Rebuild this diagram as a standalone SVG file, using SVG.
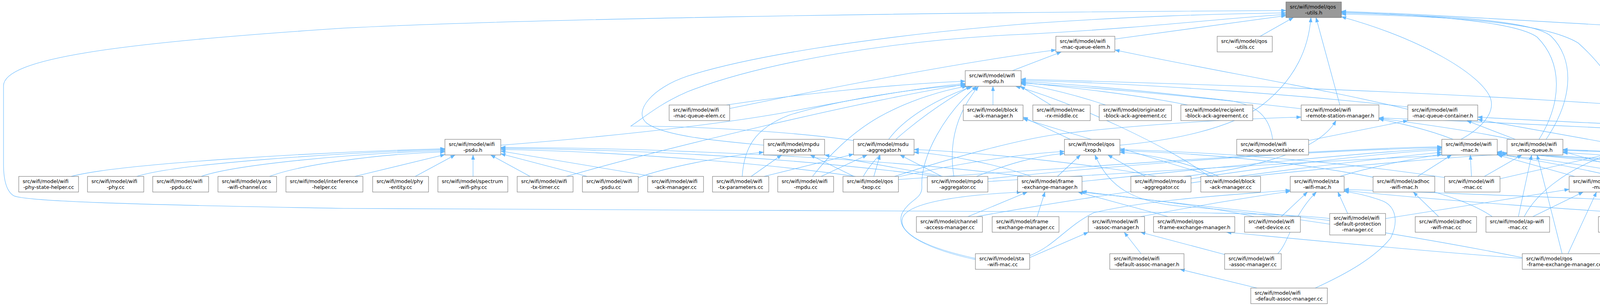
<svg xmlns="http://www.w3.org/2000/svg" width="5236" height="784" viewBox="0 0 5236 784">
<style>
.node rect{fill:#ffffff;stroke:#666666;stroke-width:1}
.root rect{fill:#999999;stroke:#666666;stroke-width:1}
text{font-family:"DejaVu Sans","Liberation Sans",sans-serif;font-size:13px;fill:#000000}
.c{text-anchor:middle}
.e path{fill:none;stroke:#63b8ff;stroke-width:1.1;marker-end:url(#arr)}
</style>
<defs>
<marker id="arr" markerUnits="userSpaceOnUse" markerWidth="13" markerHeight="10" refX="12" refY="4.5" orient="auto" viewBox="0 0 13 10">
<path d="M0,0 L12,4.5 L0,9 Z" fill="#63b8ff" stroke="#63b8ff" stroke-width="0.5"/>
</marker>
</defs>
<rect x="0" y="0" width="5236" height="784" fill="#ffffff"/>
<g id="edges" class="e">
<path d="M2854,100 L3292,40"/>
<path d="M3226,93 L3311,45"/>
<path d="M3430,269 L3369,45"/>
<path d="M2867,372 C3000,360 3150,330 3230,270 C3320,200 3350,120 3356,45"/>
<path d="M1955,372 C1850,362 1700,350 1655,315 C1620,285 1670,225 1760,195 C1900,150 2200,95 2640,60 C2900,42 3100,36 3292,33"/>
<path d="M2185,360 C2050,340 1800,323 1615,323 C1650,300 1690,265 1760,235 C1950,160 2300,100 2640,87 C2950,70 3150,45 3292,37"/>
<path d="M3404,560 C3300,546 3000,543 2600,542 L880,534 C300,524 70,515 36,502 C18,492 9,465 9,420 L9,220 C9,150 300,110 880,72 C1300,50 2300,32 3292,27"/>
<path d="M5112,555 C5180,500 5231,450 5231,380 L5231,220 C5231,195 5215,180 5180,170 C5000,120 4700,95 4400,80 C4000,60 3700,38 3434,29"/>
<path d="M3940,357 C4000,260 4000,160 3935,95 C3880,55 3650,38 3434,31"/>
<path d="M3958,357 C4030,250 4030,150 3970,92 C3920,52 3700,40 3434,33"/>
<path d="M4194,357 C4170,280 4130,190 4040,110 C3950,55 3700,42 3434,36"/>
<path d="M3740,357 C3790,330 3830,290 3815,250 C3790,190 3640,100 3434,43"/>
<path d="M2592,181 L2717,133"/>
<path d="M1868,278 C2100,230 2450,160 2703,128"/>
<path d="M3604,280 C3400,230 3100,180 2854,128"/>
<path d="M1282,372 C1500,355 1800,325 2000,290 C2200,252 2350,225 2471,214"/>
<path d="M1860,269 C2050,240 2300,215 2471,208"/>
<path d="M2542,269 L2542,221"/>
<path d="M2690,269 L2612,221"/>
<path d="M2830,269 C2760,245 2680,225 2614,215"/>
<path d="M3040,269 C2900,240 2700,220 2614,211"/>
<path d="M3604,274 C3300,240 2900,213 2614,206"/>
<path d="M3258,357 C3250,300 3220,270 3150,258 C2950,235 2750,215 2614,209"/>
<path d="M1900,452 C1905,380 1930,330 2020,295 C2150,255 2350,225 2471,218"/>
<path d="M2080,452 C2120,400 2180,340 2250,300 C2330,255 2420,230 2475,221"/>
<path d="M2275,357 C2310,310 2380,260 2490,221"/>
<path d="M2442,452 C2430,380 2440,300 2505,221"/>
<path d="M3870,357 C3600,300 2900,228 2614,213"/>
<path d="M3095,452 C3000,380 2750,262 2600,221"/>
<path d="M5100,555 C5075,480 5060,430 4990,385 C4800,300 4000,240 2614,203"/>
<path d="M1450,452 C1700,380 2200,260 2471,216"/>
<path d="M2210,452 C2250,380 2380,280 2485,221"/>
<path d="M2497,662 C2350,630 2290,590 2310,545 C2330,510 2360,510 2360,480 C2355,400 2420,290 2500,221"/>
<path d="M182,452 C300,420 800,390 1139,381"/>
<path d="M350,452 C450,420 850,392 1139,383"/>
<path d="M515,452 C600,422 900,393 1139,386"/>
<path d="M690,452 C760,425 950,395 1139,389"/>
<path d="M908,452 L1139,396"/>
<path d="M1063,452 L1165,397"/>
<path d="M1211,452 L1211,397"/>
<path d="M1357,452 L1256,397"/>
<path d="M1503,452 L1282,394"/>
<path d="M1671,452 L1282,387"/>
<path d="M2400,452 C2000,400 1600,383 1282,380"/>
<path d="M2620,452 C2200,398 1600,378 1282,378"/>
<path d="M2190,452 C1900,410 1500,386 1282,383"/>
<path d="M2740,357 L2619,300"/>
<path d="M3106,452 L2619,304"/>
<path d="M3720,357 C3650,330 3580,315 3530,305"/>
<path d="M3030,452 C3150,440 3370,400 3420,309"/>
<path d="M2290,452 C2450,400 2600,360 2700,345 C2900,320 3150,305 3331,300"/>
<path d="M4641,555 C4800,525 5075,520 5085,495 C5095,465 5060,420 4990,395 C4800,360 4000,320 3530,302"/>
<path d="M4645,557 C4800,530 5108,525 5110,495 C5113,450 5070,400 4960,370 C4700,335 4100,320 3783,300"/>
<path d="M3350,360 C3450,340 3550,320 3604,309"/>
<path d="M3879,357 L3755,309"/>
<path d="M4111,365 L3783,306"/>
<path d="M1923,452 L2001,397"/>
<path d="M2186,452 L2074,397"/>
<path d="M1634,455 C1700,430 1850,400 1955,390"/>
<path d="M2414,452 L2111,397"/>
<path d="M1956,452 L2185,395"/>
<path d="M2102,452 L2220,397"/>
<path d="M2237,452 L2253,397"/>
<path d="M2411,452 L2304,397"/>
<path d="M2960,452 C2800,420 2500,390 2340,383"/>
<path d="M2640,452 C2550,420 2420,395 2340,390"/>
<path d="M2290,455 C2450,420 2600,395 2725,388"/>
<path d="M2500,452 C2580,420 2650,400 2725,393"/>
<path d="M2707,452 L2766,397"/>
<path d="M2932,452 L2836,397"/>
<path d="M3897,660 C3600,600 3200,540 3040,530 C2900,520 2840,480 2803,397"/>
<path d="M3700,455 C3400,410 3100,390 2867,383"/>
<path d="M3820,555 C3700,470 3300,400 2867,386"/>
<path d="M3120,452 C3050,420 2950,395 2867,390"/>
<path d="M3629,452 L3716,397"/>
<path d="M3767,452 L3764,397"/>
<path d="M3430,452 C3500,430 3600,410 3691,395"/>
<path d="M4031,452 L3834,397"/>
<path d="M2770,465 C3100,430 3500,390 3691,380"/>
<path d="M2529,458 C3000,410 3400,385 3691,378"/>
<path d="M3049,458 C3300,420 3550,390 3691,384"/>
<path d="M2300,460 C2900,420 3400,380 3691,376"/>
<path d="M4250,459 C4100,430 3950,405 3833,397"/>
<path d="M4480,555 C4300,480 4000,420 3833,395"/>
<path d="M4705,455 C4400,420 4000,400 3833,391"/>
<path d="M5000,555 C4700,480 4100,410 3833,389"/>
<path d="M2500,555 C2800,500 3300,430 3691,390"/>
<path d="M4500,455 C4300,420 4000,400 3833,393"/>
<path d="M3800,452 L3896,397"/>
<path d="M3887,555 L3921,397"/>
<path d="M3999,650 L3935,397"/>
<path d="M4250,459 L4001,388"/>
<path d="M4950,452 C4700,420 4300,395 4001,385"/>
<path d="M4730,445 C4500,410 4200,390 4001,383"/>
<path d="M3200,452 C3500,420 3750,400 3858,395"/>
<path d="M2529,465 C3100,430 3600,400 3858,392"/>
<path d="M4520,650 C4450,610 4410,560 4410,500 C4405,430 4200,400 4001,391"/>
<path d="M4275,459 L4221,397"/>
<path d="M4520,452 L4292,396"/>
<path d="M4710,450 C4500,400 4350,385 4292,380"/>
<path d="M4930,452 C4700,400 4450,375 4292,370"/>
<path d="M3840,458 L4111,396"/>
<path d="M3902,555 C3930,500 4000,440 4111,398"/>
<path d="M2478,555 L2630,492"/>
<path d="M2655,555 L2675,492"/>
<path d="M2990,555 L2760,492"/>
<path d="M3210,555 C3100,530 2900,505 2765,492"/>
<path d="M3404,565 C3200,540 2900,510 2770,490"/>
<path d="M2497,665 C2380,640 2300,600 2310,560 C2320,520 2450,500 2615,492"/>
<path d="M2920,555 C3050,530 3200,505 3303,490"/>
<path d="M3280,555 L3347,492"/>
<path d="M3271,650 C3300,620 3310,550 3370,492"/>
<path d="M2636,655 C2700,630 2730,580 2800,545 C2950,510 3150,500 3303,487"/>
<path d="M3367,738 C3450,700 3520,660 3560,610 C3580,570 3575,530 3540,515 C3500,500 3470,495 3441,490"/>
<path d="M3450,547 L3425,492"/>
<path d="M4991,560 C4500,520 3800,500 3441,485"/>
<path d="M4457,565 C4000,535 3700,515 3441,488"/>
<path d="M3683,555 L3618,492"/>
<path d="M3924,555 L4053,492"/>
<path d="M4165,555 L4119,492"/>
<path d="M4014,650 L4087,492"/>
<path d="M3547,560 L4017,485"/>
<path d="M4470,555 C4350,520 4250,500 4180,492"/>
<path d="M5000,560 C4700,530 4400,505 4180,490"/>
<path d="M2636,660 L2786,595"/>
<path d="M2921,650 L2878,595"/>
<path d="M3135,652 L2920,595"/>
<path d="M3897,662 C3600,640 3300,610 3140,595"/>
<path d="M3218,738 L3021,690"/>
<path d="M4782,555 L4785,500"/>
<path d="M4632,650 L4741,595"/>
</g>
<g id="n_qos_utils_h" class="root"><rect x="3292" y="5" width="142" height="40"/><text x="3302" y="21.5">src/wifi/model/qos</text><text class="c" x="3363" y="36.5">-utils.h</text></g>
<g id="n_mac_queue_elem_h" class="node"><rect x="2703" y="93" width="151" height="40"/><text x="2713" y="109.5">src/wifi/model/wifi</text><text class="c" x="2778.5" y="124.5">-mac-queue-elem.h</text></g>
<g id="n_qos_utils_cc" class="node"><rect x="3116" y="93" width="141" height="40"/><text x="3126" y="109.5">src/wifi/model/qos</text><text class="c" x="3186.5" y="124.5">-utils.cc</text></g>
<g id="n_wifi_mpdu_h" class="node"><rect x="2471" y="181" width="143" height="40"/><text x="2481" y="197.5">src/wifi/model/wifi</text><text class="c" x="2542.5" y="212.5">-mpdu.h</text></g>
<g id="n_mac_queue_elem_cc" class="node"><rect x="1713" y="269" width="155" height="40"/><text x="1723" y="285.5">src/wifi/model/wifi</text><text class="c" x="1790.5" y="300.5">-mac-queue-elem.cc</text></g>
<g id="n_block_ack_manager_h" class="node"><rect x="2466" y="269" width="153" height="40"/><text x="2476" y="285.5">src/wifi/model/block</text><text class="c" x="2542.5" y="300.5">-ack-manager.h</text></g>
<g id="n_mac_rx_middle_cc" class="node"><rect x="2644" y="269" width="147" height="40"/><text x="2654" y="285.5">src/wifi/model/mac</text><text class="c" x="2717.5" y="300.5">-rx-middle.cc</text></g>
<g id="n_originator_cc" class="node"><rect x="2814" y="269" width="185" height="40"/><text x="2824" y="285.5">src/wifi/model/originator</text><text class="c" x="2906.5" y="300.5">-block-ack-agreement.cc</text></g>
<g id="n_recipient_cc" class="node"><rect x="3023" y="269" width="184" height="40"/><text x="3033" y="285.5">src/wifi/model/recipient</text><text class="c" x="3115" y="300.5">-block-ack-agreement.cc</text></g>
<g id="n_rsm_h" class="node"><rect x="3331" y="269" width="199" height="40"/><text x="3341" y="285.5">src/wifi/model/wifi</text><text class="c" x="3430.5" y="300.5">-remote-station-manager.h</text></g>
<g id="n_mac_queue_container_h" class="node"><rect x="3604" y="269" width="179" height="40"/><text x="3614" y="285.5">src/wifi/model/wifi</text><text class="c" x="3693.5" y="300.5">-mac-queue-container.h</text></g>
<g id="n_psdu_h" class="node"><rect x="1139" y="357" width="143" height="40"/><text x="1149" y="373.5">src/wifi/model/wifi</text><text class="c" x="1210.5" y="388.5">-psdu.h</text></g>
<g id="n_mpdu_aggregator_h" class="node"><rect x="1955" y="357" width="156" height="40"/><text x="1965" y="373.5">src/wifi/model/mpdu</text><text class="c" x="2033" y="388.5">-aggregator.h</text></g>
<g id="n_msdu_aggregator_h" class="node"><rect x="2185" y="357" width="155" height="40"/><text x="2195" y="373.5">src/wifi/model/msdu</text><text class="c" x="2262.5" y="388.5">-aggregator.h</text></g>
<g id="n_qos_txop_h" class="node"><rect x="2725" y="357" width="142" height="40"/><text x="2735" y="373.5">src/wifi/model/qos</text><text class="c" x="2796" y="388.5">-txop.h</text></g>
<g id="n_mac_queue_container_cc" class="node"><rect x="3166" y="357" width="184" height="40"/><text x="3176" y="373.5">src/wifi/model/wifi</text><text class="c" x="3258" y="388.5">-mac-queue-container.cc</text></g>
<g id="n_wifi_mac_h" class="node"><rect x="3691" y="357" width="142" height="40"/><text x="3701" y="373.5">src/wifi/model/wifi</text><text class="c" x="3762" y="388.5">-mac.h</text></g>
<g id="n_wifi_mac_queue_h" class="node"><rect x="3858" y="357" width="143" height="40"/><text x="3868" y="373.5">src/wifi/model/wifi</text><text class="c" x="3929.5" y="388.5">-mac-queue.h</text></g>
<g id="n_mac_queue_scheduler_h" class="node"><rect x="4111" y="357" width="181" height="40"/><text x="4121" y="373.5">src/wifi/model/wifi</text><text class="c" x="4201.5" y="388.5">-mac-queue-scheduler.h</text></g>
<g id="n_phy_state_helper_cc" class="node"><rect x="48" y="452" width="153" height="40"/><text x="58" y="468.5">src/wifi/model/wifi</text><text class="c" x="124.5" y="483.5">-phy-state-helper.cc</text></g>
<g id="n_wifi_phy_cc" class="node"><rect x="224" y="452" width="144" height="40"/><text x="234" y="468.5">src/wifi/model/wifi</text><text class="c" x="296" y="483.5">-phy.cc</text></g>
<g id="n_wifi_ppdu_cc" class="node"><rect x="391" y="452" width="143" height="40"/><text x="401" y="468.5">src/wifi/model/wifi</text><text class="c" x="462.5" y="483.5">-ppdu.cc</text></g>
<g id="n_yans_wifi_channel_cc" class="node"><rect x="558" y="452" width="150" height="40"/><text x="568" y="468.5">src/wifi/model/yans</text><text class="c" x="633" y="483.5">-wifi-channel.cc</text></g>
<g id="n_interference_helper_cc" class="node"><rect x="732" y="452" width="197" height="40"/><text x="742" y="468.5">src/wifi/model/interference</text><text class="c" x="830.5" y="483.5">-helper.cc</text></g>
<g id="n_phy_entity_cc" class="node"><rect x="954" y="452" width="143" height="40"/><text x="964" y="468.5">src/wifi/model/phy</text><text class="c" x="1025.5" y="483.5">-entity.cc</text></g>
<g id="n_spectrum_wifi_phy_cc" class="node"><rect x="1121" y="452" width="179" height="40"/><text x="1131" y="468.5">src/wifi/model/spectrum</text><text class="c" x="1210.5" y="483.5">-wifi-phy.cc</text></g>
<g id="n_wifi_tx_timer_cc" class="node"><rect x="1324" y="452" width="143" height="40"/><text x="1334" y="468.5">src/wifi/model/wifi</text><text class="c" x="1395.5" y="483.5">-tx-timer.cc</text></g>
<g id="n_wifi_psdu_cc" class="node"><rect x="1491" y="452" width="143" height="40"/><text x="1501" y="468.5">src/wifi/model/wifi</text><text class="c" x="1562.5" y="483.5">-psdu.cc</text></g>
<g id="n_wifi_ack_manager_cc" class="node"><rect x="1658" y="452" width="143" height="40"/><text x="1668" y="468.5">src/wifi/model/wifi</text><text class="c" x="1729.5" y="483.5">-ack-manager.cc</text></g>
<g id="n_wifi_tx_parameters_cc" class="node"><rect x="1824" y="452" width="144" height="40"/><text x="1834" y="468.5">src/wifi/model/wifi</text><text class="c" x="1896" y="483.5">-tx-parameters.cc</text></g>
<g id="n_wifi_mpdu_cc" class="node"><rect x="1991" y="452" width="143" height="40"/><text x="2001" y="468.5">src/wifi/model/wifi</text><text class="c" x="2062.5" y="483.5">-mpdu.cc</text></g>
<g id="n_qos_txop_cc" class="node"><rect x="2158" y="452" width="142" height="40"/><text x="2168" y="468.5">src/wifi/model/qos</text><text class="c" x="2229" y="483.5">-txop.cc</text></g>
<g id="n_mpdu_aggregator_cc" class="node"><rect x="2374" y="452" width="155" height="40"/><text x="2384" y="468.5">src/wifi/model/mpdu</text><text class="c" x="2451.5" y="483.5">-aggregator.cc</text></g>
<g id="n_frame_exchange_manager_h" class="node"><rect x="2605" y="452" width="165" height="40"/><text x="2615" y="468.5">src/wifi/model/frame</text><text class="c" x="2687.5" y="483.5">-exchange-manager.h</text></g>
<g id="n_msdu_aggregator_cc" class="node"><rect x="2895" y="452" width="154" height="40"/><text x="2905" y="468.5">src/wifi/model/msdu</text><text class="c" x="2972" y="483.5">-aggregator.cc</text></g>
<g id="n_block_ack_manager_cc" class="node"><rect x="3074" y="452" width="153" height="40"/><text x="3084" y="468.5">src/wifi/model/block</text><text class="c" x="3150.5" y="483.5">-ack-manager.cc</text></g>
<g id="n_sta_wifi_mac_h" class="node"><rect x="3303" y="452" width="138" height="40"/><text x="3313" y="468.5">src/wifi/model/sta</text><text class="c" x="3372" y="483.5">-wifi-mac.h</text></g>
<g id="n_adhoc_wifi_mac_h" class="node"><rect x="3515" y="452" width="158" height="40"/><text x="3525" y="468.5">src/wifi/model/adhoc</text><text class="c" x="3594" y="483.5">-wifi-mac.h</text></g>
<g id="n_wifi_mac_cc" class="node"><rect x="3698" y="452" width="142" height="40"/><text x="3708" y="468.5">src/wifi/model/wifi</text><text class="c" x="3769" y="483.5">-mac.cc</text></g>
<g id="n_ap_wifi_mac_h" class="node"><rect x="4017" y="452" width="163" height="40"/><text x="4027" y="468.5">src/wifi/model/ap-wifi</text><text class="c" x="4098.5" y="483.5">-mac.h</text></g>
<g id="n_txop_cc" class="node"><rect x="4204" y="459" width="165" height="27"/><text class="c" x="4286.5" y="477">src/wifi/model/txop.cc</text></g>
<g id="n_mac_queue_scheduler_cc" class="node"><rect x="4494" y="452" width="188" height="40"/><text x="4504" y="468.5">src/wifi/model/wifi</text><text class="c" x="4588" y="483.5">-mac-queue-scheduler.cc</text></g>
<g id="n_mac_queue_scheduler_impl_h" class="node"><rect x="4705" y="445" width="169" height="55"/><text x="4715" y="461">src/wifi/model/wifi</text><text x="4715" y="476">-mac-queue-scheduler</text><text class="c" x="4789.5" y="491">-impl.h</text></g>
<g id="n_wifi_mac_queue_cc" class="node"><rect x="4898" y="452" width="143" height="40"/><text x="4908" y="468.5">src/wifi/model/wifi</text><text class="c" x="4969.5" y="483.5">-mac-queue.cc</text></g>
<g id="n_channel_access_manager_cc" class="node"><rect x="2346" y="555" width="169" height="40"/><text x="2356" y="571.5">src/wifi/model/channel</text><text class="c" x="2430.5" y="586.5">-access-manager.cc</text></g>
<g id="n_frame_exchange_manager_cc" class="node"><rect x="2540" y="555" width="171" height="40"/><text x="2550" y="571.5">src/wifi/model/frame</text><text class="c" x="2625.5" y="586.5">-exchange-manager.cc</text></g>
<g id="n_wifi_assoc_manager_h" class="node"><rect x="2786" y="555" width="144" height="40"/><text x="2796" y="571.5">src/wifi/model/wifi</text><text class="c" x="2858" y="586.5">-assoc-manager.h</text></g>
<g id="n_qos_frame_exchange_manager_h" class="node"><rect x="2953" y="555" width="208" height="40"/><text x="2963" y="571.5">src/wifi/model/qos</text><text class="c" x="3057" y="586.5">-frame-exchange-manager.h</text></g>
<g id="n_wifi_net_device_cc" class="node"><rect x="3186" y="555" width="143" height="40"/><text x="3196" y="571.5">src/wifi/model/wifi</text><text class="c" x="3257.5" y="586.5">-net-device.cc</text></g>
<g id="n_wifi_default_protection_manager_cc" class="node"><rect x="3404" y="547" width="143" height="55"/><text x="3414" y="563">src/wifi/model/wifi</text><text x="3414" y="578">-default-protection</text><text class="c" x="3475.5" y="593">-manager.cc</text></g>
<g id="n_adhoc_wifi_mac_cc" class="node"><rect x="3623" y="555" width="157" height="40"/><text x="3633" y="571.5">src/wifi/model/adhoc</text><text class="c" x="3701.5" y="586.5">-wifi-mac.cc</text></g>
<g id="n_ap_wifi_mac_cc" class="node"><rect x="3804" y="555" width="163" height="40"/><text x="3814" y="571.5">src/wifi/model/ap-wifi</text><text class="c" x="3885.5" y="586.5">-mac.cc</text></g>
<g id="n_wifi_protection_manager_cc" class="node"><rect x="4092" y="555" width="176" height="40"/><text x="4102" y="571.5">src/wifi/model/wifi</text><text class="c" x="4180" y="586.5">-protection-manager.cc</text></g>
<g id="n_wifi_remote_station_manager_cc" class="node"><rect x="4457" y="555" width="206" height="40"/><text x="4467" y="571.5">src/wifi/model/wifi</text><text class="c" x="4560" y="586.5">-remote-station-manager.cc</text></g>
<g id="n_fcfs_wifi_queue_scheduler_h" class="node"><rect x="4693" y="555" width="176" height="40"/><text x="4703" y="571.5">src/wifi/model/fcfs</text><text class="c" x="4781" y="586.5">-wifi-queue-scheduler.h</text></g>
<g id="n_wifi_default_ack_manager_cc" class="node"><rect x="4991" y="555" width="183" height="40"/><text x="5001" y="571.5">src/wifi/model/wifi</text><text class="c" x="5082.5" y="586.5">-default-ack-manager.cc</text></g>
<g id="n_sta_wifi_mac_cc" class="node"><rect x="2497" y="650" width="139" height="40"/><text x="2507" y="666.5">src/wifi/model/sta</text><text class="c" x="2566.5" y="681.5">-wifi-mac.cc</text></g>
<g id="n_wifi_default_assoc_manager_h" class="node"><rect x="2841" y="650" width="190" height="40"/><text x="2851" y="666.5">src/wifi/model/wifi</text><text class="c" x="2936" y="681.5">-default-assoc-manager.h</text></g>
<g id="n_wifi_assoc_manager_cc" class="node"><rect x="3135" y="650" width="145" height="40"/><text x="3145" y="666.5">src/wifi/model/wifi</text><text class="c" x="3207.5" y="681.5">-assoc-manager.cc</text></g>
<g id="n_qos_frame_exchange_manager_cc" class="node"><rect x="3897" y="650" width="215" height="40"/><text x="3907" y="666.5">src/wifi/model/qos</text><text class="c" x="4004.5" y="681.5">-frame-exchange-manager.cc</text></g>
<g id="n_fcfs_wifi_queue_scheduler_cc" class="node"><rect x="4502" y="650" width="183" height="40"/><text x="4512" y="666.5">src/wifi/model/fcfs</text><text class="c" x="4593.5" y="681.5">-wifi-queue-scheduler.cc</text></g>
<g id="n_wifi_default_assoc_manager_cc" class="node"><rect x="3202" y="738" width="196" height="40"/><text x="3212" y="754.5">src/wifi/model/wifi</text><text class="c" x="3300" y="769.5">-default-assoc-manager.cc</text></g>
</svg>
